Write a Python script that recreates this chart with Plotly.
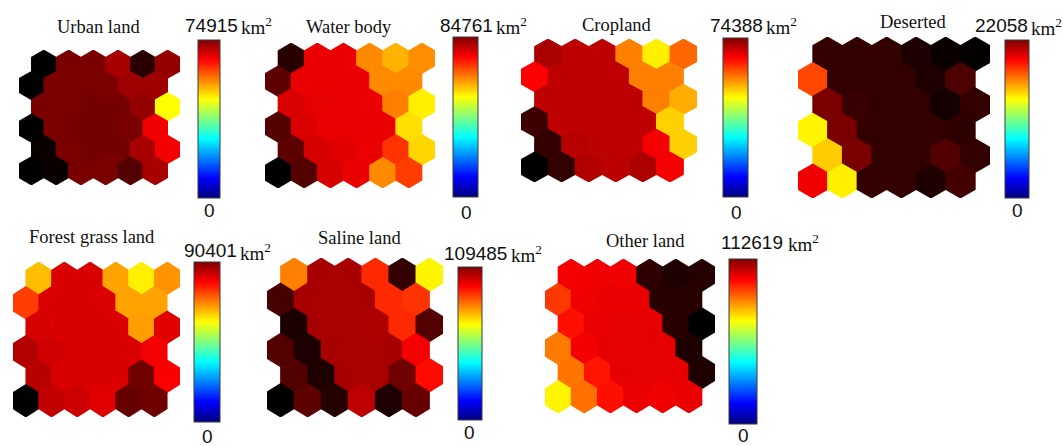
import plotly.graph_objects as go
from plotly.colors import sample_colorscale

W, H = 1063, 446

# ---- data -----------------------------------------------------------------
titles = ["Urban land", "Water body", "Cropland", "Deserted",
          "Forest grass land", "Saline land", "Other land"]

# upper end of each component plane's colour bar (km²)
plane_max = [74915, 84761, 74388, 22058, 90401, 109485, 112619]
plane_min = [0, 0, 0, 0, 0, 0, 0]

# relative neuron weights on the 6 x 6 hexagonal SOM grid, rows top -> bottom
urban_land = [
    [0.00, 0.24, 0.24, 0.33, 0.08, 0.29],
    [0.00, 0.24, 0.24, 0.24, 0.31, 0.31],
    [0.24, 0.24, 0.23, 0.23, 0.29, 1.00],
    [0.00, 0.24, 0.23, 0.23, 0.24, 0.47],
    [0.02, 0.24, 0.23, 0.23, 0.33, 0.48],
    [0.00, 0.02, 0.24, 0.24, 0.16, 0.33],
]
water_body = [
    [0.08, 0.46, 0.46, 0.77, 0.85, 0.78],
    [0.18, 0.46, 0.46, 0.46, 0.77, 0.77],
    [0.43, 0.45, 0.46, 0.46, 0.75, 0.97],
    [0.16, 0.43, 0.46, 0.46, 0.46, 0.94],
    [0.18, 0.42, 0.44, 0.46, 0.60, 0.92],
    [0.00, 0.16, 0.42, 0.46, 0.77, 0.62],
]
cropland = [
    [0.33, 0.37, 0.37, 0.75, 0.97, 0.70],
    [0.50, 0.37, 0.37, 0.37, 0.75, 0.75],
    [0.37, 0.37, 0.37, 0.37, 0.75, 0.84],
    [0.12, 0.37, 0.37, 0.37, 0.37, 0.91],
    [0.10, 0.36, 0.37, 0.37, 0.48, 0.91],
    [0.00, 0.10, 0.35, 0.37, 0.34, 0.48],
]
deserted = [
    [0.10, 0.10, 0.10, 0.06, 0.02, 0.01],
    [0.64, 0.10, 0.10, 0.10, 0.06, 0.15],
    [0.24, 0.11, 0.10, 0.10, 0.04, 0.10],
    [0.98, 0.24, 0.10, 0.10, 0.10, 0.09],
    [0.90, 0.24, 0.10, 0.10, 0.16, 0.10],
    [0.47, 0.97, 0.10, 0.10, 0.06, 0.13],
]
forest_grass_land = [
    [0.87, 0.43, 0.43, 0.82, 0.97, 0.79],
    [0.62, 0.43, 0.43, 0.43, 0.82, 0.82],
    [0.42, 0.43, 0.43, 0.43, 0.81, 0.44],
    [0.35, 0.41, 0.43, 0.43, 0.43, 0.48],
    [0.36, 0.43, 0.43, 0.43, 0.22, 0.49],
    [0.00, 0.38, 0.40, 0.44, 0.20, 0.22],
]
saline_land = [
    [0.75, 0.33, 0.33, 0.58, 0.10, 0.98],
    [0.14, 0.33, 0.33, 0.33, 0.58, 0.60],
    [0.05, 0.33, 0.33, 0.34, 0.58, 0.16],
    [0.16, 0.06, 0.33, 0.33, 0.33, 0.48],
    [0.16, 0.06, 0.33, 0.33, 0.22, 0.52],
    [0.00, 0.18, 0.07, 0.37, 0.06, 0.20],
]
other_land = [
    [0.48, 0.47, 0.47, 0.09, 0.06, 0.07],
    [0.61, 0.47, 0.46, 0.46, 0.08, 0.08],
    [0.53, 0.46, 0.45, 0.45, 0.08, 0.00],
    [0.74, 0.48, 0.45, 0.45, 0.45, 0.06],
    [0.73, 0.54, 0.45, 0.45, 0.45, 0.06],
    [0.98, 0.72, 0.53, 0.46, 0.47, 0.46],
]
planes = [urban_land, water_body, cropland, deserted,
          forest_grass_land, saline_land, other_land]

# ---- styling ----------------------------------------------------------------
PLANE_SCALE = [[0.0, "rgb(0,0,0)"], [0.5, "rgb(255,0,0)"], [1.0, "rgb(255,255,0)"]]
JET = [[0.0, "rgb(0,0,128)"], [0.125, "rgb(0,0,255)"], [0.375, "rgb(0,255,255)"],
       [0.625, "rgb(255,255,0)"], [0.875, "rgb(255,0,0)"], [1.0, "rgb(128,0,0)"]]

SERIF = "Liberation Serif, Times New Roman, serif"
SANS = "Liberation Sans, Arial, sans-serif"
NUM_SIZE = 19
DIGIT_W = 10.6

# pixel layout of each panel: hex-grid box, colour bar box, text anchors
panels = [
    dict(grid=(19, 50, 180, 185), bar=(198, 40, 22, 158),
         title=(98, 27), num=(183, 25), zero=(209, 211)),
    dict(grid=(265, 43, 435, 188), bar=(453, 37, 25, 160),
         title=(349, 27), num=(438, 25), zero=(466, 212)),
    dict(grid=(521, 39, 697, 182), bar=(723, 38, 25, 159),
         title=(617, 25), num=(708, 25), zero=(736, 212)),
    dict(grid=(798, 37, 990, 198), bar=(1005, 40, 24, 158),
         title=(913, 22), num=(973, 26), zero=(1017, 211)),
    dict(grid=(13, 262, 180, 417), bar=(194, 262, 26, 160),
         title=(92, 237), num=(182, 251), zero=(207, 436)),
    dict(grid=(267, 258, 443, 417), bar=(458, 267, 24, 153),
         title=(359, 238), num=(442, 253), zero=(469, 432)),
    dict(grid=(545, 259, 715, 413), bar=(729, 259, 28, 165),
         title=(645, 241), num=(719, 242), zero=(743, 435)),
]

NROWS, NCOLS = 6, 6
PITCH = 0.75          # vertical distance between hex rows (grid units)
HALF_H = 0.5          # half height of a pointy-top hexagon
Y_SPAN = (NROWS - 1) * PITCH + 2 * HALF_H
X_SPAN = NCOLS + 0.5
GROW = 1.03           # slight overlap so neighbouring cells leave no seams

fig = go.Figure()
annotations = []
layout_axes = {}

for k, (vals, p) in enumerate(zip(planes, panels)):
    idx = "" if k == 0 else str(k + 1)
    xa, ya = "x" + idx, "y" + idx
    gx0, gy0, gx1, gy1 = p["grid"]
    layout_axes["xaxis" + idx] = dict(domain=[gx0 / W, gx1 / W], range=[0, X_SPAN],
                                      visible=False, fixedrange=True, anchor=ya)
    layout_axes["yaxis" + idx] = dict(domain=[1 - gy1 / H, 1 - gy0 / H], range=[Y_SPAN, 0],
                                      visible=False, fixedrange=True, anchor=xa)

    # hexagonal neurons; even rows are shifted half a cell to the right
    hw, hh = 0.5 * GROW, HALF_H * GROW
    for r in range(NROWS):
        for c in range(NCOLS):
            v = vals[r][c]
            cx = c + 0.5 + (0.5 if r % 2 == 0 else 0.0)
            cy = HALF_H + r * PITCH
            hx = [cx, cx + hw, cx + hw, cx, cx - hw, cx - hw, cx]
            hy = [cy - hh, cy - hh / 2, cy + hh / 2, cy + hh,
                  cy + hh / 2, cy - hh / 2, cy - hh]
            col = sample_colorscale(PLANE_SCALE, [v])[0]
            fig.add_trace(go.Scatter(x=hx, y=hy, mode="none", fill="toself",
                                     fillcolor=col, xaxis=xa, yaxis=ya,
                                     showlegend=False, hoverinfo="skip"))

    # jet colour bar for the plane's range in km²
    bx, by, bw, bh = p["bar"]
    fig.add_trace(go.Scatter(
        x=[None], y=[None], mode="markers", xaxis=xa, yaxis=ya, showlegend=False,
        hoverinfo="skip",
        marker=dict(color=[plane_min[k]], cmin=plane_min[k], cmax=plane_max[k],
                    colorscale=JET, showscale=True,
                    colorbar=dict(x=bx / W, xanchor="left", y=1 - by / H, yanchor="top",
                                  len=bh, lenmode="pixels", thickness=bw,
                                  thicknessmode="pixels", xpad=0, ypad=0,
                                  showticklabels=False, ticks="",
                                  outlinewidth=1, outlinecolor="#3a3a3a",
                                  borderwidth=0))))

    tx, ty = p["title"]
    annotations.append(dict(text=titles[k], x=tx / W, y=1 - ty / H, xanchor="center",
                            yanchor="middle", font=dict(family=SERIF, size=18.5, color="#111")))
    nx, ny = p["num"]
    num_txt = str(plane_max[k])
    annotations.append(dict(text=num_txt, x=nx / W, y=1 - ny / H, xanchor="left",
                            yanchor="middle", font=dict(family=SANS, size=NUM_SIZE, color="#111")))
    kx = nx + len(num_txt) * DIGIT_W + 3
    annotations.append(dict(text="km<sup>2</sup>", x=kx / W, y=1 - (ny + 1) / H, xanchor="left",
                            yanchor="middle", font=dict(family=SERIF, size=19, color="#111")))
    zx, zy = p["zero"]
    annotations.append(dict(text=str(plane_min[k]), x=zx / W, y=1 - zy / H, xanchor="center",
                            yanchor="middle", font=dict(family=SANS, size=NUM_SIZE, color="#111")))

for a in annotations:
    a.update(xref="paper", yref="paper", showarrow=False)

fig.update_layout(width=W, height=H, margin=dict(l=0, r=0, t=0, b=0, pad=0),
                  paper_bgcolor="white", plot_bgcolor="white",
                  annotations=annotations, **layout_axes)

fig.write_html("out.html", config={"displayModeBar": False})
